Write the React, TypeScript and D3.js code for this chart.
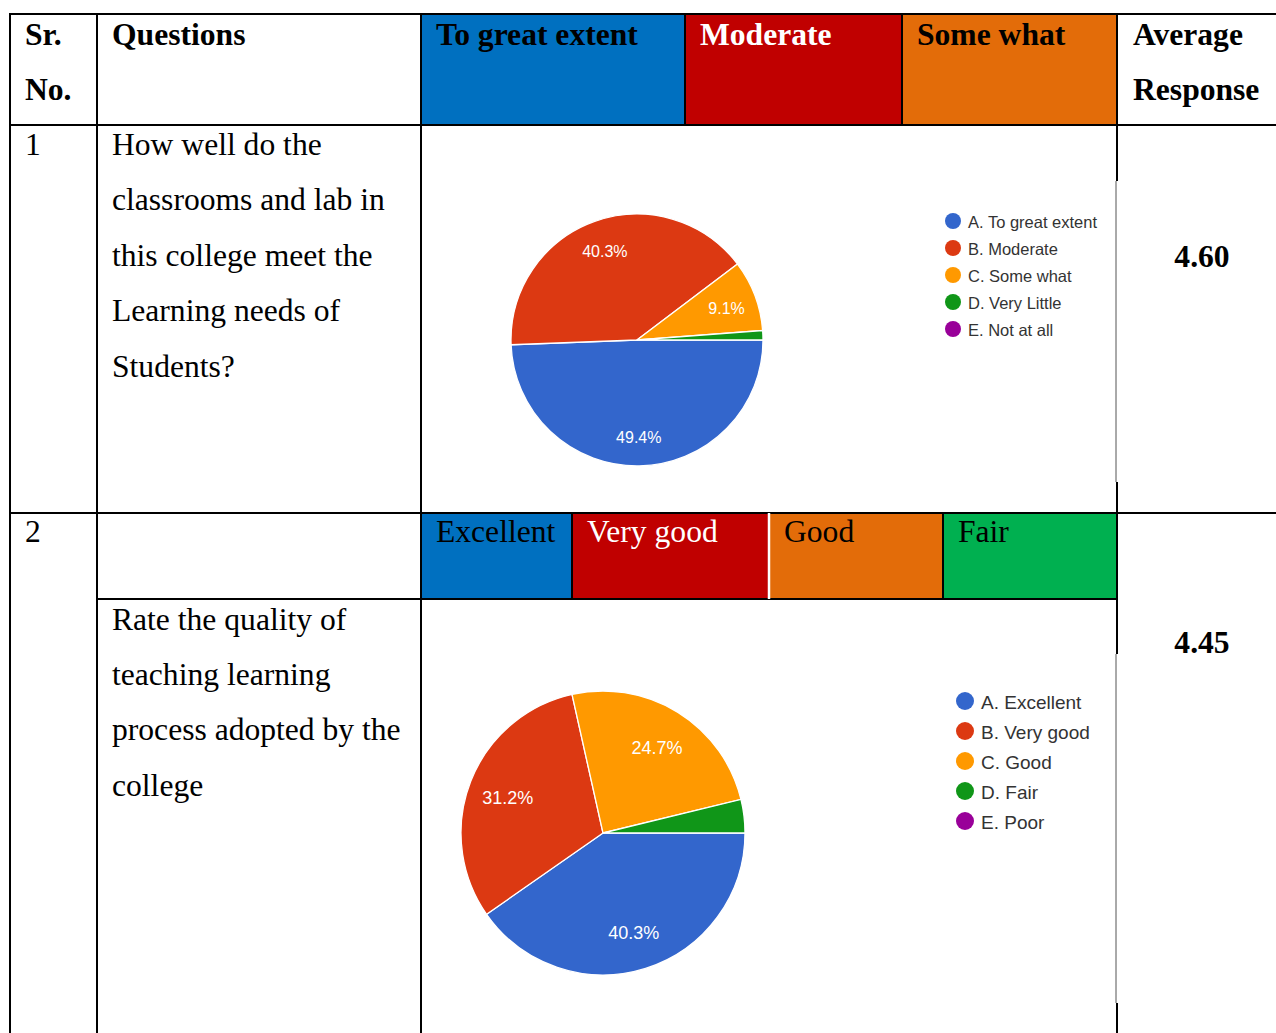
import { useEffect, useRef } from 'react';
import * as d3 from 'd3';

// survey answers
const Q1_LABELS = ['A. To great extent', 'B. Moderate', 'C. Some what', 'D. Very Little', 'E. Not at all'];
const Q1_VALUES = [49.4, 40.3, 9.1, 1.2, 0];
const Q2_LABELS = ['A. Excellent', 'B. Very good', 'C. Good', 'D. Fair', 'E. Poor'];
const Q2_VALUES = [40.3, 31.2, 24.7, 3.8, 0];

const Q1_HEAD = ['To great extent', 'Moderate', 'Some what'];
const Q2_HEAD = ['Excellent', 'Very good', 'Good', 'Fair'];
const Q1_TEXT = ['How well do the', 'classrooms and lab in', 'this college meet the', 'Learning needs of', 'Students?'];
const Q2_TEXT = ['Rate the quality of', 'teaching learning', 'process adopted by the', 'college'];
const AVERAGES = ['4.60', '4.45'];

const PIE_COLORS = ['#3366cc', '#dc3912', '#ff9900', '#109618', '#990099'];
const HEAD_FILL = ['#0070c0', '#c00000', '#e36c09', '#00b050'];
const HEAD_TEXT = ['#000', '#fff', '#000', '#000'];

const W = 1276, H = 1033;
const FS = 31.6;
const SERIF = '"Liberation Serif", "Times New Roman", serif';
const SANS = '"Liberation Sans", Arial, sans-serif';

export default function App() {
    const svgRef = useRef<SVGSVGElement>(null);

    useEffect(() => {
        const svg = d3.select(svgRef.current);
        svg.selectAll('*').remove();
        svg.append('rect').attr('width', W).attr('height', H).attr('fill', '#fff');

        // coloured header cells
        const head1 = [421, 685, 902, 1117];
        Q1_HEAD.forEach((t, i) => {
            svg.append('rect').attr('x', head1[i]).attr('y', 14)
                .attr('width', head1[i + 1] - head1[i]).attr('height', 111).attr('fill', HEAD_FILL[i]);
            svg.append('text').attr('x', head1[i] + 15).attr('y', 45)
                .attr('font-family', SERIF).attr('font-size', FS).attr('font-weight', 700)
                .attr('fill', HEAD_TEXT[i]).text(t);
        });
        const head2 = [421, 572, 769, 943, 1117];
        Q2_HEAD.forEach((t, i) => {
            svg.append('rect').attr('x', head2[i]).attr('y', 513)
                .attr('width', head2[i + 1] - head2[i]).attr('height', 86).attr('fill', HEAD_FILL[i]);
            svg.append('text').attr('x', head2[i] + 15).attr('y', 542)
                .attr('font-family', SERIF).attr('font-size', FS)
                .attr('fill', HEAD_TEXT[i]).text(t);
        });

        // grid lines
        const line = (x1: number, y1: number, x2: number, y2: number, c = '#000', w = 2) =>
            svg.append('line').attr('x1', x1).attr('y1', y1).attr('x2', x2).attr('y2', y2)
                .attr('stroke', c).attr('stroke-width', w);
        [14, 125, 513].forEach(y => line(9, y, W, y));
        line(97, 599, 1117, 599);
        [10, 97, 421].forEach(x => line(x, 13, x, H));
        line(1117, 13, 1117, 181); line(1117, 482, 1117, 654); line(1117, 1003, 1117, H);
        line(1116, 181, 1116, 482, '#555', 1); line(1116, 654, 1116, 1003, '#555', 1);
        [685, 902].forEach(x => line(x, 14, x, 125));
        line(572, 513, 572, 599); line(943, 513, 943, 599);
        line(769, 513, 769, 599, '#fff', 2.5);

        const txt = (x: number, y: number, t: string, bold = false, anchor = 'start') =>
            svg.append('text').attr('x', x).attr('y', y).attr('text-anchor', anchor)
                .attr('font-family', SERIF).attr('font-size', FS)
                .attr('font-weight', bold ? 700 : 400).attr('fill', '#000').text(t);

        txt(25, 45, 'Sr.', true); txt(25, 100, 'No.', true);
        txt(112, 45, 'Questions', true);
        txt(1133, 45, 'Average', true); txt(1133, 100, 'Response', true);
        txt(25, 155, '1'); txt(25, 542, '2');
        Q1_TEXT.forEach((t, i) => txt(112, 155 + i * 55.4, t));
        Q2_TEXT.forEach((t, i) => txt(112, 630 + i * 55.2, t));
        txt(1202, 267, AVERAGES[0], true, 'middle');
        txt(1202, 653, AVERAGES[1], true, 'middle');

        // pies — google draws them starting at 3 o'clock, clockwise
        const drawPie = (values: number[], labels: string[], cx: number, cy: number, r: number,
            lf: number, pctSize: number, lx: number, ly: number, step: number, dot: number, legSize: number) => {
            const data = values.map((v, i) => ({ v, i }));
            const pie = d3.pie<{ v: number; i: number }>().value(d => d.v).sort(null)
                .startAngle(Math.PI / 2).endAngle(Math.PI / 2 + 2 * Math.PI);
            const arc = d3.arc<d3.PieArcDatum<{ v: number; i: number }>>().innerRadius(0).outerRadius(r);
            const lab = d3.arc<d3.PieArcDatum<{ v: number; i: number }>>().innerRadius(r * lf).outerRadius(r * lf);
            const g = svg.append('g').attr('transform', `translate(${cx},${cy})`);
            const arcs = pie(data).filter(d => d.data.v > 0);
            g.selectAll('path').data(arcs).join('path')
                .attr('d', d => arc(d)!)
                .attr('fill', d => PIE_COLORS[d.data.i])
                .attr('stroke', '#fff').attr('stroke-width', 1.3);
            g.selectAll('text').data(arcs.filter(d => d.data.v > 5)).join('text')
                .attr('transform', d => { const [x, y] = lab.centroid(d); return `translate(${x},${y + 2})`; })
                .attr('text-anchor', 'middle').attr('dominant-baseline', 'central')
                .attr('font-family', SANS).attr('font-size', pctSize).attr('fill', '#fff')
                .text(d => `${d.data.v.toFixed(1)}%`);

            const leg = svg.append('g');
            labels.forEach((t, i) => {
                leg.append('circle').attr('cx', lx).attr('cy', ly + i * step).attr('r', dot)
                    .attr('fill', PIE_COLORS[i]);
                leg.append('text').attr('x', lx + dot + 7).attr('y', ly + i * step + 1)
                    .attr('dominant-baseline', 'central')
                    .attr('font-family', SANS).attr('font-size', legSize).attr('fill', '#333').text(t);
            });
        };

        drawPie(Q1_VALUES, Q1_LABELS, 637, 340, 126, 0.76, 16, 953, 221, 27, 8, 16.5);
        drawPie(Q2_VALUES, Q2_LABELS, 603, 833, 142, 0.72, 18, 965, 701, 30, 9, 19);
    }, []);

    return (
        <svg ref={svgRef} width={W} height={H}
            style={{ position: 'absolute', left: 0, top: 0, display: 'block' }} />
    );
}
